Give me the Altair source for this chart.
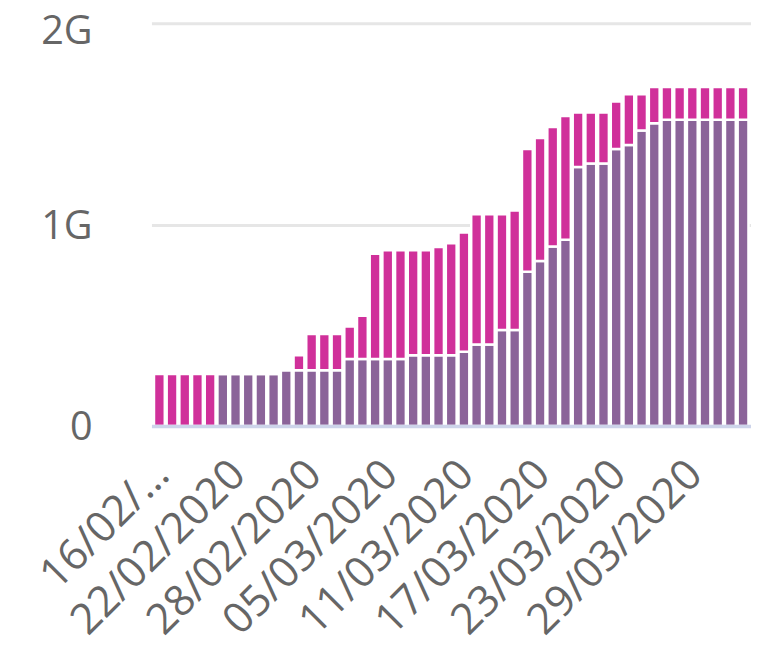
import altair as alt
import pandas as pd

# 47 daily categories, 16/02/2020 .. 02/04/2020
dates = [d.strftime("%d/%m/%Y") for d in pd.date_range("2020-02-16", "2020-04-02", freq="D")]

# values in billions (G)
purple = [0, 0, 0, 0, 0,
          0.258, 0.258, 0.258, 0.258, 0.258,
          0.277, 0.277, 0.277, 0.277, 0.277,
          0.332, 0.332, 0.332, 0.332, 0.332,
          0.351, 0.351, 0.351, 0.351, 0.368,
          0.404, 0.404, 0.476, 0.476, 0.766,
          0.819, 0.891, 0.925, 1.286, 1.304,
          1.304, 1.376, 1.395, 1.467, 1.503,
          1.521, 1.521, 1.521, 1.521, 1.521, 1.521, 1.521]
magenta = [0.258, 0.258, 0.258, 0.258, 0.258,
           0, 0, 0, 0, 0,
           0, 0.074, 0.179, 0.179, 0.179,
           0.162, 0.215, 0.523, 0.540, 0.540,
           0.521, 0.521, 0.538, 0.556, 0.593,
           0.647, 0.647, 0.575, 0.594, 0.610,
           0.611, 0.594, 0.614, 0.271, 0.253,
           0.253, 0.235, 0.252, 0.180, 0.180,
           0.162, 0.162, 0.162, 0.162, 0.162, 0.162, 0.162]

series = ["Serie 1", "Serie 2"]
colors = ["#8B6399", "#D0309A"]
label_dates = ["16/02/2020", "22/02/2020", "28/02/2020", "05/03/2020",
               "11/03/2020", "17/03/2020", "23/03/2020", "29/03/2020"]
y_ticks = [0, 1e9, 2e9]

rows = []
for d, p, m in zip(dates, purple, magenta):
    rows.append({"date": d, "series": series[0], "ord": 0, "value": p * 1e9})
    rows.append({"date": d, "series": series[1], "ord": 1, "value": m * 1e9})
df = pd.DataFrame(rows)

FONT = "Open Sans"

chart = alt.Chart(df).mark_bar(stroke="white", strokeWidth=2.5).encode(
    x=alt.X("date:N", sort=dates, title=None,
            scale=alt.Scale(paddingInner=0.15, paddingOuter=0.2),
            axis=alt.Axis(values=label_dates, labelAngle=-45,
                          labelExpr="datum.value == '16/02/2020' ? '16/02/…' : datum.value",
                          labelFontSize=43, labelColor="#666666", labelFont=FONT,
                          labelLimit=1000, labelPadding=42, labelOffset=3,
                          labelBaseline="middle", labelAlign="right", ticks=False,
                          domainColor="#CDD4EA", domainWidth=3.5, zindex=1,
                          labelOverlap=False)),
    y=alt.Y("value:Q", stack="zero", title=None,
            scale=alt.Scale(domain=[0, 2e9], nice=False),
            axis=alt.Axis(values=y_ticks, format="~s",
                          labelExpr="datum.value == 0 ? '0' : datum.label",
                          labelFontSize=40,
                          labelOffset={"condition": {"test": "datum.value >= 2e9", "value": 8}, "value": 2},
                          labelColor="#666666", labelFont=FONT, labelPadding=60,
                          domain=False, ticks=False, gridColor="#E6E6E6",
                          gridWidth=3)),
    color=alt.Color("series:N", scale=alt.Scale(domain=series, range=colors), legend=None),
    order=alt.Order("ord:Q"),
).properties(
    width=606, height=407,
    autosize=alt.AutoSizeParams(type="none"),
    padding={"left": 145, "top": 12, "right": 0, "bottom": 221},
).configure_view(stroke=None)

chart.save("out.html", embed_options={"renderer": "svg", "actions": False})
